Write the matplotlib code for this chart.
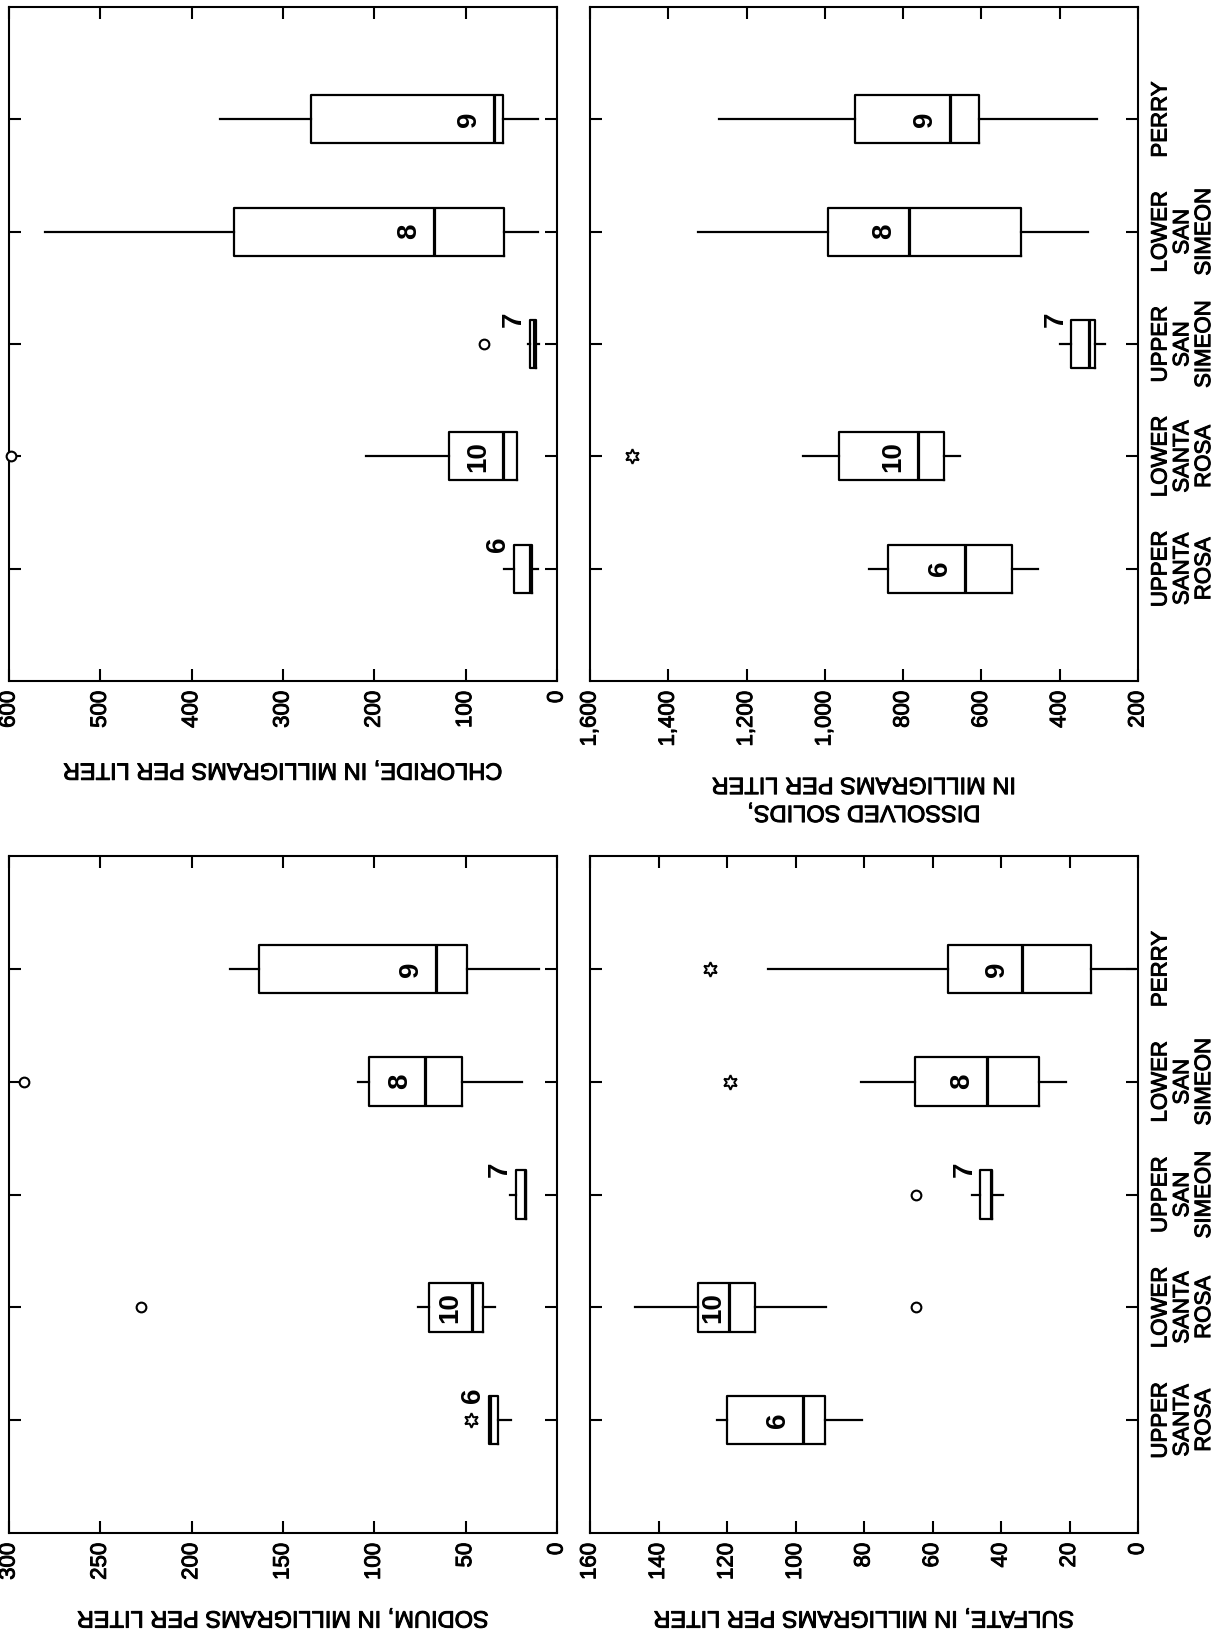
import matplotlib
matplotlib.use("Agg")
import matplotlib.pyplot as plt
import matplotlib.patheffects as pe
from matplotlib.ticker import FuncFormatter

plt.rcParams['font.family'] = ['Liberation Sans', 'DejaVu Sans']

# Basins, from upstream to downstream, and number of samples in each
categories = ["UPPER\nSANTA\nROSA", "LOWER\nSANTA\nROSA", "UPPER\nSAN\nSIMEON",
              "LOWER\nSAN\nSIMEON", "PERRY"]
sample_counts = [6, 10, 7, 8, 9]

# Sodium, mg/L
sodium_whislo = [25, 34, 17, 19, 10]
sodium_q1 = [32.4, 40.6, 17, 52, 49]
sodium_med = [36.8, 46.6, 17.5, 72, 66]
sodium_q3 = [37.3, 70, 22.5, 103, 163]
sodium_whishi = [37.3, 76, 26, 109, 179]
sodium_far = [[], [228], [], [292], []]
sodium_outside = [[47], [], [], [], []]

# Chloride, mg/L
chloride_whislo = [21, 43.7, 19.7, 21, 21]
chloride_q1 = [27.3, 43.7, 23, 58, 59]
chloride_med = [29.5, 59, 25, 135, 69]
chloride_q3 = [47, 118, 29.5, 354, 269]
chloride_whishi = [58, 209, 31.7, 561, 369]
chloride_far = [[], [598], [80], [], []]
chloride_outside = [[], [], [], [], []]

# Sulfate, mg/L
sulfate_whislo = [80.7, 91, 39.4, 21, 0.8]
sulfate_q1 = [91.4, 111.7, 42.6, 29, 13.6]
sulfate_med = [97.8, 119.5, 43, 44, 34]
sulfate_q3 = [120, 128.6, 46, 65, 55.6]
sulfate_whishi = [123, 147, 48.4, 81, 108]
sulfate_far = [[], [64.7], [64.7], [], []]
sulfate_outside = [[], [], [], [119], [125]]

# Dissolved solids, mg/L
solids_whislo = [456, 655, 285, 329, 304]
solids_q1 = [523, 695, 311, 499, 606]
solids_med = [642, 762, 324, 784, 680]
solids_q3 = [838, 963, 370, 993, 923]
solids_whishi = [886, 1057, 400, 1324, 1271]
solids_far = [[], [], [], [], []]
solids_outside = [[], [1493], [], [], []]

W, H = 1225, 1642
fig = plt.figure(figsize=(W / 100, H / 100), dpi=100)
fig.patch.set_facecolor('white')

left_col = (9 / W, 548 / W)
right_col = (590 / W, 548 / W)
top_row = (1 - 681 / H, 674 / H)
bottom_row = (1 - 1533 / H, 677 / H)

panels = [
    dict(col=left_col, row=top_row, lim=(0, 600), step=100,
         label="CHLORIDE, IN MILLIGRAMS PER LITER", cats=False, pad=22,
         stats=(chloride_whislo, chloride_q1, chloride_med, chloride_q3, chloride_whishi),
         far=chloride_far, outside=chloride_outside),
    dict(col=right_col, row=top_row, lim=(200, 1600), step=200,
         label="DISSOLVED SOLIDS,\nIN MILLIGRAMS PER LITER", cats=True, pad=19,
         stats=(solids_whislo, solids_q1, solids_med, solids_q3, solids_whishi),
         far=solids_far, outside=solids_outside),
    dict(col=left_col, row=bottom_row, lim=(0, 300), step=50,
         label="SODIUM, IN MILLIGRAMS PER LITER", cats=False, pad=19,
         stats=(sodium_whislo, sodium_q1, sodium_med, sodium_q3, sodium_whishi),
         far=sodium_far, outside=sodium_outside),
    dict(col=right_col, row=bottom_row, lim=(0, 160), step=20,
         label="SULFATE, IN MILLIGRAMS PER LITER", cats=True, pad=19,
         stats=(sulfate_whislo, sulfate_q1, sulfate_med, sulfate_q3, sulfate_whishi),
         far=sulfate_far, outside=sulfate_outside),
]

positions = list(range(1, len(categories) + 1))
px_to_pt = 72 / 100
heavy = [pe.withStroke(linewidth=0.7, foreground='black')]

for p in panels:
    ax = fig.add_axes([p['col'][0], p['row'][0], p['col'][1], p['row'][1]])
    lo, q1, med, q3, hi = p['stats']
    bstats = [dict(whislo=a, q1=b, med=c, q3=d, whishi=e, fliers=[])
              for a, b, c, d, e in zip(lo, q1, med, q3, hi)]
    ax.bxp(bstats, positions=positions, widths=0.43, orientation='horizontal',
           showfliers=False, showcaps=False,
           boxprops=dict(color='black', linewidth=1.6),
           whiskerprops=dict(color='black', linewidth=1.6),
           medianprops=dict(color='black', linewidth=2.3))

    for pos, vals in zip(positions, p['far']):
        if vals:
            ax.plot(vals, [pos] * len(vals), linestyle='none', marker='o',
                    mfc='white', mec='black', ms=7, mew=1.5, clip_on=False, zorder=5)
    for pos, vals in zip(positions, p['outside']):
        if vals:
            ax.plot(vals, [pos] * len(vals), linestyle='none', marker=(6, 1, 0),
                    mfc='none', mec='black', ms=10.5, mew=1.4, clip_on=False, zorder=5)

    vmin, vmax = p['lim']
    ax.set_xlim(vmax, vmin)
    ax.set_ylim(0, len(categories) + 1)
    ax.set_xticks(list(range(vmin, vmax + 1, p['step'])))
    ax.xaxis.set_major_formatter(FuncFormatter(lambda v, _: f"{v:,.0f}"))
    ax.set_yticks(positions)
    ax.set_yticklabels(categories, rotation=90, ha='left', va='center',
                       multialignment='center', linespacing=1.05)

    ax.tick_params(axis='x', direction='in', top=True, bottom=True,
                   labeltop=False, labelbottom=True, length=8.5, width=1.5,
                   labelsize=16, labelrotation=90, pad=7)
    ax.tick_params(axis='y', direction='in', left=True, right=True,
                   labelleft=False, labelright=p['cats'], length=8.5, width=1.5,
                   labelsize=16, pad=9)
    for lab in ax.get_xticklabels() + ax.get_yticklabels():
        lab.set_path_effects(heavy)
    for s in ax.spines.values():
        s.set_linewidth(1.5)

    ax.set_xlabel(p['label'], rotation=180, fontsize=17, labelpad=p['pad'],
                  multialignment='center', linespacing=1.35, path_effects=heavy)

    # sample counts beside each box
    ppu = ax.bbox.width / (vmax - vmin)
    for pos, n, m, t in zip(positions, sample_counts, med, q3):
        gap = (t - m) * ppu
        if gap >= 25:
            off = min(25, gap / 2)
            xy, dx = (m, pos), -off
        else:
            xy, dx = (t, pos + 0.22), -16
        ax.annotate(str(n), xy=xy, xytext=(dx * px_to_pt, 0),
                    textcoords='offset points', rotation=90, ha='center',
                    va='center', fontsize=20, fontweight='bold')

fig.savefig("out.png", dpi=100, facecolor='white')
